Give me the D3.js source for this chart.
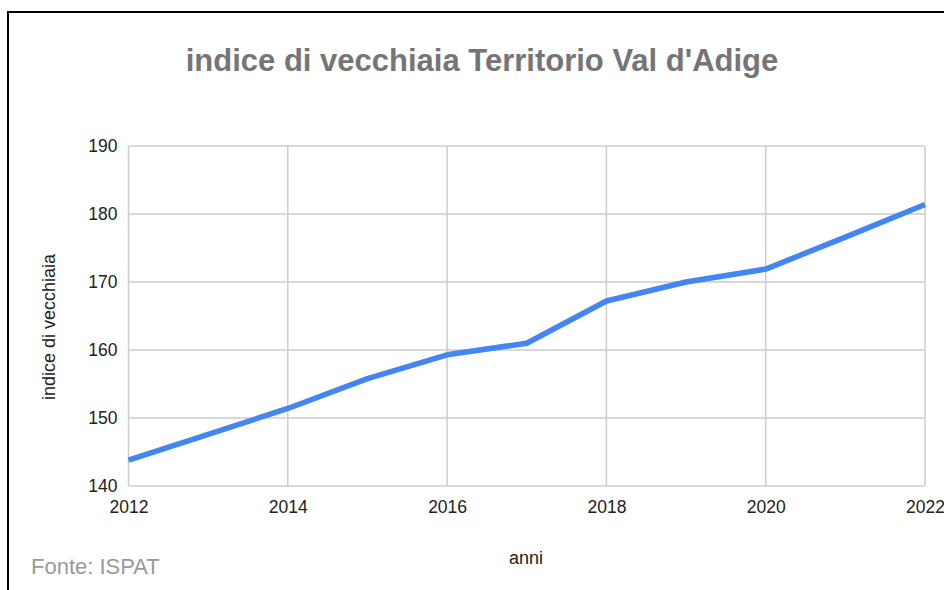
<!DOCTYPE html>
<html>
<head>
<meta charset="utf-8">
<script src="https://cdn.jsdelivr.net/npm/d3@7"></script>
<style>
  body { margin: 0; background: #fff; }
  svg { display: block; font-family: "Liberation Sans", Arial, sans-serif; }
</style>
</head>
<body>
<div id="graph"></div>
<script>
// Data
const years = [2012, 2013, 2014, 2015, 2016, 2017, 2018, 2019, 2020, 2021, 2022];
const indice = [143.8, 147.6, 151.4, 155.8, 159.3, 161.0, 167.2, 170.0, 171.9, 176.6, 181.4];
const yTicks = [140, 150, 160, 170, 180, 190];
const xTicks = [2012, 2014, 2016, 2018, 2020, 2022];

const width = 944, height = 590;
const margin = { top: 146, right: 19, bottom: 104, left: 128.5 };

const svg = d3.select("#graph")
  .append("svg")
    .attr("width", width)
    .attr("height", height);

// outer frame
svg.append("rect")
   .attr("x", 8).attr("y", 12)
   .attr("width", 960).attr("height", 600)
   .attr("fill", "none")
   .attr("stroke", "#000")
   .attr("stroke-width", 2);

const x = d3.scaleLinear()
  .domain([2012, 2022])
  .range([margin.left, width - margin.right]);

const y = d3.scaleLinear()
  .domain([140, 190])
  .range([height - margin.bottom, margin.top]);

// gridlines
svg.append("g")
   .selectAll("line.h")
   .data(yTicks)
   .enter().append("line")
     .attr("x1", x(2012)).attr("x2", x(2022))
     .attr("y1", d => y(d)).attr("y2", d => y(d))
     .attr("stroke", "#cccccc").attr("stroke-width", 1.5);

svg.append("g")
   .selectAll("line.v")
   .data(xTicks)
   .enter().append("line")
     .attr("x1", d => x(d)).attr("x2", d => x(d))
     .attr("y1", y(140)).attr("y2", y(190))
     .attr("stroke", "#cccccc").attr("stroke-width", 1.5);

// axes (labels only)
svg.append("g")
  .attr("transform", "translate(" + (margin.left - 11) + ",0)")
  .call(d3.axisLeft(y).tickValues(yTicks).tickSize(0).tickPadding(0));

svg.append("g")
  .attr("transform", "translate(0," + (y(140) + 12) + ")")
  .call(d3.axisBottom(x).tickValues(xTicks).tickSize(0).tickPadding(3).tickFormat(d3.format("d")));

svg.selectAll(".domain").remove();
svg.selectAll(".tick text")
   .attr("font-size", 17.5)
   .attr("fill", "#222")
   .attr("font-family", "Liberation Sans, Arial, sans-serif");

// line
const line = d3.line()
  .x((d, i) => x(years[i]))
  .y(d => y(d));

svg.append("path")
   .datum(indice)
   .attr("d", line)
   .attr("fill", "none")
   .attr("stroke", "#4285f4")
   .attr("stroke-width", 5.5)
   .attr("stroke-linejoin", "round");

// title and labels
svg.append("text")
   .attr("x", 482).attr("y", 71)
   .attr("text-anchor", "middle")
   .attr("font-size", 31)
   .attr("font-weight", "bold")
   .attr("fill", "#757575")
   .text("indice di vecchiaia Territorio Val d'Adige");

svg.append("text")
   .attr("transform", "translate(55,327) rotate(-90)")
   .attr("text-anchor", "middle")
   .attr("font-size", 18)
   .attr("fill", "#222")
   .text("indice di vecchiaia");

svg.append("text")
   .attr("x", 526).attr("y", 564)
   .attr("text-anchor", "middle")
   .attr("font-size", 18)
   .attr("fill", "#222")
   .text("anni");

svg.append("text")
   .attr("x", 31).attr("y", 574)
   .attr("font-size", 22)
   .attr("fill", "#999999")
   .text("Fonte: ISPAT");
</script>
</body>
</html>
